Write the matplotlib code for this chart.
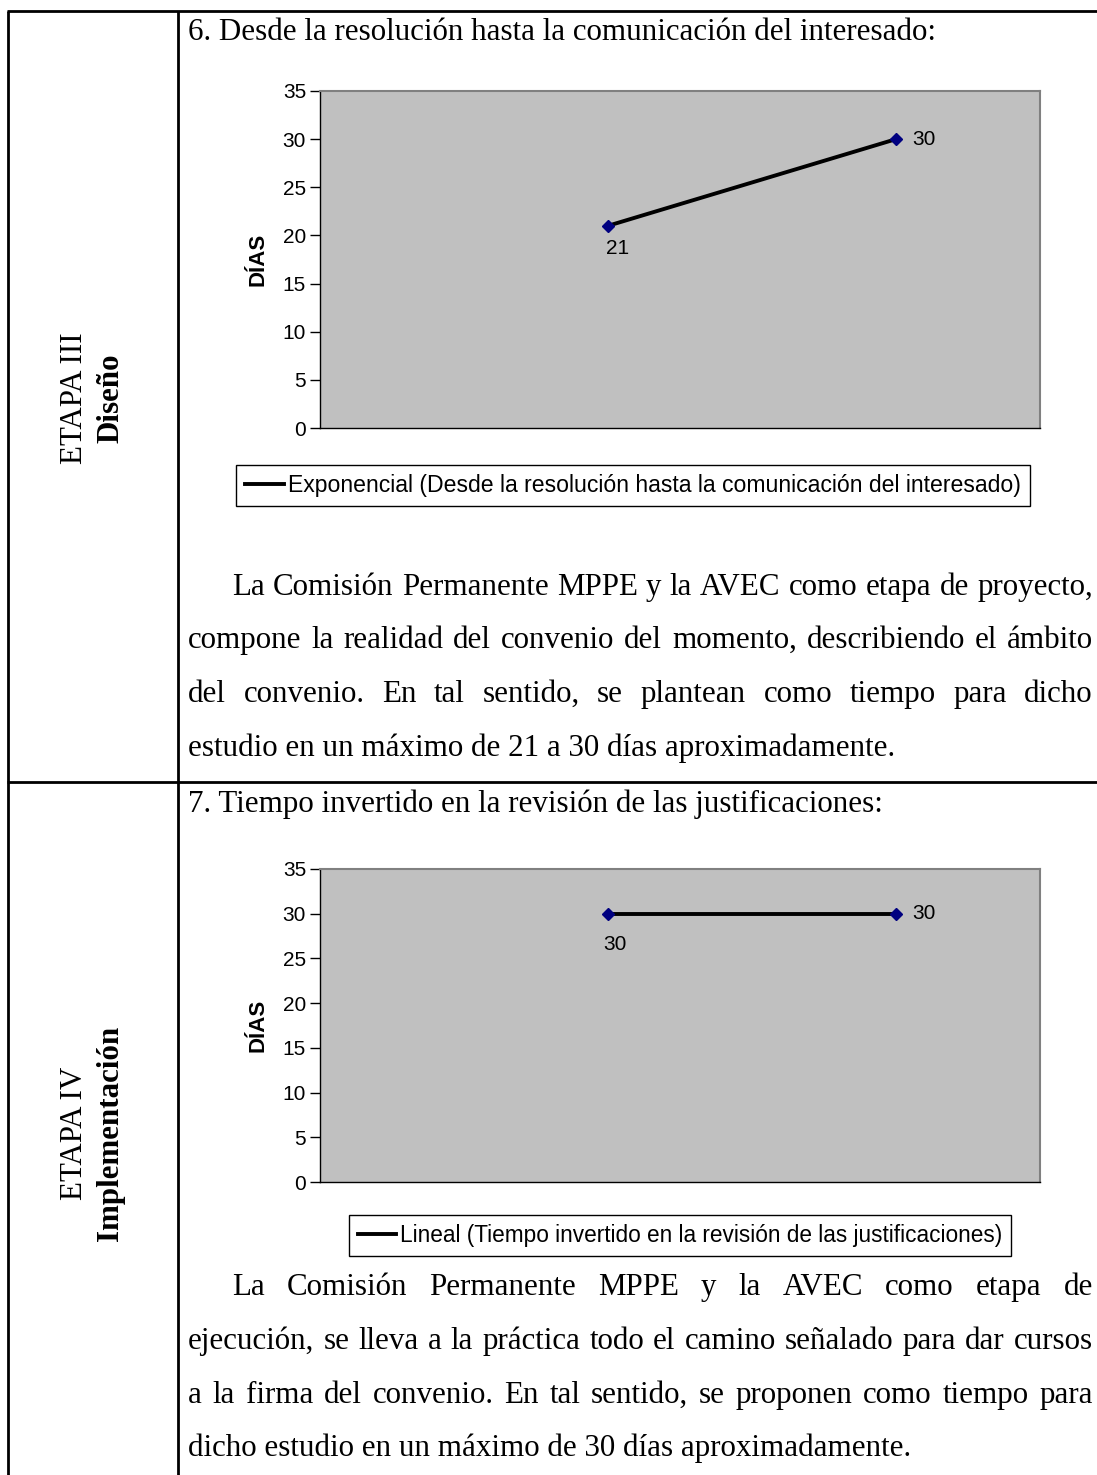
import matplotlib
matplotlib.use('Agg')
import matplotlib.pyplot as plt
from matplotlib.lines import Line2D

W, H = 1097, 1475

# ---------------- data ----------------
categories = [1, 2]
chart1_values = [21, 30]
chart2_values = [30, 30]
yticks = [0, 5, 10, 15, 20, 25, 30, 35]
ylabel = "DÍAS"
chart1_title = "6. Desde la resolución hasta la comunicación del interesado:"
chart2_title = "7. Tiempo invertido en la revisión de las justificaciones:"
chart1_legend = "Exponencial (Desde la resolución hasta la comunicación del interesado)"
chart2_legend = "Lineal (Tiempo invertido en la revisión de las justificaciones)"
stage1_labels = ["ETAPA III", "Diseño"]
stage2_labels = ["ETAPA IV", "Implementación"]
para1 = [
    "La Comisión Permanente MPPE y la AVEC como etapa de proyecto,",
    "compone la realidad del convenio del momento, describiendo el ámbito",
    "del convenio. En tal sentido, se plantean como tiempo para dicho",
    "estudio en un máximo de 21 a 30 días aproximadamente.",
]
para2 = [
    "La Comisión Permanente MPPE y la AVEC como etapa de",
    "ejecución, se lleva a la práctica todo el camino señalado para dar cursos",
    "a la firma del convenio. En tal sentido, se proponen como tiempo para",
    "dicho estudio en un máximo de 30 días aproximadamente.",
]

SERIF = "Liberation Serif"
SANS = "Liberation Sans"

fig = plt.figure(figsize=(W / 100, H / 100), dpi=100)
fig.patch.set_facecolor('white')
bg = fig.add_axes([0, 0, 1, 1])
bg.set_xlim(0, W)
bg.set_ylim(H, 0)
bg.axis('off')
renderer = fig.canvas.get_renderer()


def text_width(s, **kw):
    t = bg.text(0, 0, s, **kw)
    w = t.get_window_extent(renderer).width
    t.remove()
    return w


def fit_size(s, target, **kw):
    return 10 * target / text_width(s, fontsize=10, **kw)


# ---------------- table lines ----------------
lw_tab = 2.0
bg.plot([8, 8], [11, H], color='black', lw=lw_tab, solid_capstyle='butt')
bg.plot([178, 178], [11, H], color='black', lw=lw_tab, solid_capstyle='butt')
bg.plot([7, W], [11, 11], color='black', lw=lw_tab, solid_capstyle='butt')
bg.plot([7, W], [782, 782], color='black', lw=lw_tab, solid_capstyle='butt')

# ---------------- body text ----------------
body_fs = fit_size(para1[0], 855, family=SERIF)


def draw_par(lines, ys, x0=188, x1=1093, indent=44):
    for i, (line, y) in enumerate(zip(lines, ys)):
        start = x0 + (indent if i == 0 else 0)
        if i == len(lines) - 1:
            bg.text(start, y, line, ha='left', va='baseline', fontsize=body_fs, family=SERIF)
            continue
        words = line.split()
        widths = [text_width(w, fontsize=body_fs, family=SERIF) for w in words]
        gap = (x1 - start - sum(widths)) / (len(words) - 1)
        x = start
        for w, wd in zip(words, widths):
            bg.text(x, y, w, ha='left', va='baseline', fontsize=body_fs, family=SERIF)
            x += wd + gap


bg.text(188, 40, chart1_title, ha='left', va='baseline', fontsize=body_fs, family=SERIF)
bg.text(188, 812, chart2_title, ha='left', va='baseline', fontsize=body_fs, family=SERIF)
draw_par(para1, [595, 648, 702, 756])
draw_par(para2, [1295, 1349, 1403, 1456])

# stage labels (rotated)
stage_fs = body_fs
for labels, yc in [(stage1_labels, 398), (stage2_labels, 1133)]:
    bg.text(74, yc, labels[0], rotation=90, ha='center', va='center',
            fontsize=stage_fs, family=SERIF)
    bg.text(111, yc, labels[1], rotation=90, ha='center', va='center',
            fontsize=stage_fs, family=SERIF, fontweight='bold')


# ---------------- charts ----------------
def chart(top, bottom, values, lab_offsets, legend_text, legend_center, legend_target):
    ax = fig.add_axes([320 / W, 1 - bottom / H, 720 / W, (bottom - top) / H])
    ax.set_facecolor('#C0C0C0')
    ax.plot(categories, values, color='black', lw=2.8, zorder=2, solid_capstyle='round')
    ax.plot(categories, values, ls='none', marker='D', ms=6.5, mfc='#000080',
            mec='#000080', zorder=3)
    ax.set_xlim(0, 2.5)
    ax.set_ylim(0, 35)
    ax.set_yticks(yticks)
    ax.set_xticks([])
    ax.tick_params(axis='y', length=7, width=1, labelsize=15, pad=3, colors='black')
    for lab in ax.get_yticklabels():
        lab.set_family(SANS)
    for side in ['top', 'right']:
        ax.spines[side].set_color('#808080')
        ax.spines[side].set_linewidth(1.5)
    for side in ['left', 'bottom']:
        ax.spines[side].set_color('black')
        ax.spines[side].set_linewidth(1)
    ax.set_ylabel(ylabel, family=SANS, fontweight='bold', fontsize=16, labelpad=10)
    for (xc, v, off) in zip(categories, values, lab_offsets):
        ax.annotate(str(v), (xc, v), xytext=off, textcoords='offset pixels',
                    ha='left', va='center', fontsize=15, family=SANS)
    fs = fit_size(legend_text, legend_target, family=SANS)
    leg = fig.legend(handles=[Line2D([], [], color='black', lw=2.8)], labels=[legend_text],
                     loc='center', bbox_to_anchor=(legend_center[0] / W, 1 - legend_center[1] / H),
                     frameon=True, fancybox=False, framealpha=1, edgecolor='black',
                     handlelength=1.7, handletextpad=0.15, borderpad=0.4,
                     prop={'family': SANS, 'size': fs})
    leg.get_frame().set_linewidth(1)
    return ax


chart(91, 428, chart1_values, [(-2, -23), (16, 0)], chart1_legend, (633, 485.5), 735)
chart(869, 1182, chart2_values, [(-5, -31), (16, 0)], chart2_legend, (680, 1235.5), 606)

fig.savefig('out.png', dpi=100, facecolor='white')
